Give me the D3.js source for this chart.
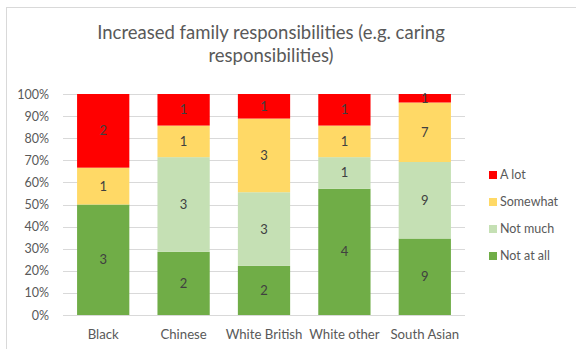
<!DOCTYPE html>
<html><head><meta charset="utf-8">
<script src="https://cdn.jsdelivr.net/npm/d3@7"></script>
<style>
html,body{margin:0;padding:0;background:#fff;}
svg{display:block;font-family:Lato, "Open Sans", sans-serif;}
</style></head>
<body><svg id="c" width="576" height="349"></svg>
<script>
const categories = ["Black", "Chinese", "White British", "White other", "South Asian"];
const seriesNames = ["Not at all", "Not much", "Somewhat", "A lot"];
const notAtAll = [3, 2, 2, 4, 9];
const notMuch = [0, 3, 3, 1, 9];
const somewhat = [1, 1, 3, 1, 7];
const aLot = [2, 1, 1, 1, 1];
const yTicks = [0, 0.1, 0.2, 0.3, 0.4, 0.5, 0.6, 0.7, 0.8, 0.9, 1.0];
const colors = ["#70AD47", "#C5E0B4", "#FFD966", "#FF0000"];
const title = ["Increased family responsibilities (e.g. caring", "responsibilities)"];

const seriesValues = [notAtAll, notMuch, somewhat, aLot];
const rows = categories.map((c, i) => {
  const r = {category: c};
  seriesNames.forEach((s, j) => r[s] = seriesValues[j][i]);
  r.total = seriesValues.reduce((a, v) => a + v[i], 0);
  return r;
});
const stacked = d3.stack().keys(seriesNames)
  .value((d, k) => d[k] / d.total)(rows);

const svg = d3.select("#c");
svg.append("rect").attr("x", 6.5).attr("y", 7.5).attr("width", 580).attr("height", 360)
  .attr("fill", "#fff").attr("stroke", "#d9d9d9");

const x = d3.scaleBand().domain(categories).range([63, 465]).paddingInner(0.35).paddingOuter(0.175);
const y = d3.scaleLinear().domain([0, 1]).range([315, 94]);

// title
svg.append("text").attr("x", 271).attr("y", 39).attr("text-anchor", "middle")
  .attr("fill", "#595959").attr("font-size", 18.5)
  .selectAll("tspan").data(title).join("tspan")
  .attr("x", 271).attr("dy", (d, i) => i ? 23 : 0).text(d => d);

// gridlines
svg.append("g").selectAll("line").data(yTicks).join("line")
  .attr("x1", 63).attr("x2", 465)
  .attr("y1", d => Math.round(y(d)) + 0.5).attr("y2", d => Math.round(y(d)) + 0.5)
  .attr("stroke", "#d9d9d9").attr("stroke-width", 1);

// y axis labels
const yAxis = d3.axisLeft(y).tickValues(yTicks).tickFormat(d3.format(".0%")).tickSize(0).tickPadding(0);
const ya = svg.append("g").attr("transform", "translate(49,0)").call(yAxis);
ya.select(".domain").remove();
ya.selectAll("text").attr("fill", "#595959").attr("font-size", 12.5).attr("font-family", "Lato, sans-serif");

// x axis labels
const xAxis = d3.axisBottom(x).tickSize(0).tickPadding(0);
const xa = svg.append("g").attr("transform", "translate(0,330)").call(xAxis);
xa.select(".domain").remove();
xa.selectAll("text").attr("fill", "#595959").attr("font-size", 13.2).attr("font-family", "Lato, sans-serif");

// bars
const layer = svg.append("g").selectAll("g").data(stacked).join("g")
  .attr("fill", (d, i) => colors[i]);
layer.selectAll("rect").data(d => d).join("rect")
  .attr("x", d => x(d.data.category))
  .attr("width", x.bandwidth())
  .attr("y", d => y(d[1]))
  .attr("height", d => y(d[0]) - y(d[1]));

// labels
svg.append("g").selectAll("g").data(stacked).join("g")
  .each(function(s) {
    d3.select(this).selectAll("text").data(s.filter(d => d.data[s.key] > 0)).join("text")
      .attr("x", d => x(d.data.category) + x.bandwidth() / 2)
      .attr("y", d => (y(d[0]) + y(d[1])) / 2)
      .attr("dy", "0.35em")
      .attr("text-anchor", "middle")
      .attr("fill", "#404040").attr("font-size", 13)
      .text(d => d.data[s.key]);
  });

// legend
const legendOrder = [3, 2, 1, 0];
const lg = svg.append("g").selectAll("g").data(legendOrder).join("g")
  .attr("transform", (d, i) => `translate(489,${175 + i * 27})`);
lg.append("rect").attr("x", 0).attr("y", -4).attr("width", 8).attr("height", 8)
  .attr("fill", d => colors[d]);
lg.append("text").attr("x", 11).attr("y", 0).attr("dy", "0.35em")
  .attr("fill", "#595959").attr("font-size", 12.5).text(d => seriesNames[d]);
</script></body></html>
